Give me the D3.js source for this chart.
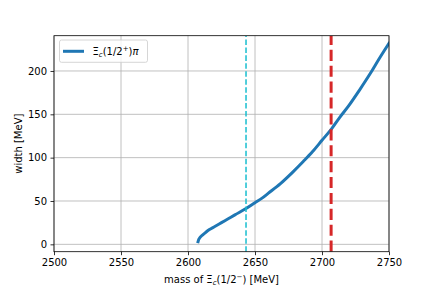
<!DOCTYPE html>
<html>
<head>
<meta charset="utf-8">
<script src="https://cdn.jsdelivr.net/npm/d3@7"></script>
<style>
  body { margin: 0; background: #fff; }
  svg { display: block; font-family: "DejaVu Sans", sans-serif; }
</style>
</head>
<body>
<svg id="chart" width="432" height="288"></svg>
<script>
// Data
const massValues = [2607.5, 2608, 2609, 2611, 2613, 2616, 2620, 2625, 2630, 2635, 2643, 2650, 2655, 2660, 2669, 2678, 2686, 2693, 2700, 2707, 2713, 2720, 2728, 2736, 2743, 2750];
const widthValues = [3, 5.5, 8, 11, 13.5, 17, 20.5, 25, 29.5, 34, 41, 48, 53, 59, 70, 83, 95.5, 107, 120, 133, 146, 160, 178, 197, 215, 232];
const cyanLineMass = [2643.3];
const redLineMass = [2706.8];
const xTicks = [2500, 2550, 2600, 2650, 2700, 2750];
const yTicks = [0, 50, 100, 150, 200];
const xDomain = [2500, 2750];
const yDomain = [-8.5, 240.7];

(function () {
const svg = d3.select("#chart");
const pl = 54, pr = 389, pt = 35.7, pb = 251.7;

const x = d3.scaleLinear().domain(xDomain).range([pl, pr]);
const y = d3.scaleLinear().domain(yDomain).range([pb, pt]);

// grid
const grid = svg.append("g");
grid.selectAll("line.gx").data(xTicks).join("line")
  .attr("x1", d => x(d)).attr("x2", d => x(d))
  .attr("y1", pt).attr("y2", pb)
  .attr("stroke", "#b0b0b0").attr("stroke-width", 0.8);
grid.selectAll("line.gy").data(yTicks).join("line")
  .attr("y1", d => y(d)).attr("y2", d => y(d))
  .attr("x1", pl).attr("x2", pr)
  .attr("stroke", "#b0b0b0").attr("stroke-width", 0.8);

// clip
svg.append("clipPath").attr("id", "clip").append("rect")
  .attr("x", pl).attr("y", pt).attr("width", pr - pl).attr("height", pb - pt);

const plot = svg.append("g").attr("clip-path", "url(#clip)");

// curve
const line = d3.line().x((d, i) => x(massValues[i])).y(d => y(d)).curve(d3.curveMonotoneX);
plot.append("path").datum(widthValues)
  .attr("d", line)
  .attr("fill", "none").attr("stroke", "#1f77b4").attr("stroke-width", 3)
  .attr("stroke-linecap", "square").attr("stroke-linejoin", "round");

// vertical dashed lines
plot.selectAll("line.cyan").data(cyanLineMass).join("line")
  .attr("x1", d => x(d)).attr("x2", d => x(d))
  .attr("y1", pb).attr("y2", pt)
  .attr("stroke", "#17becf").attr("stroke-width", 1.5)
  .attr("stroke-dasharray", "5.55,2.4");
plot.selectAll("line.red").data(redLineMass).join("line")
  .attr("x1", d => x(d)).attr("x2", d => x(d))
  .attr("y1", pb).attr("y2", pt)
  .attr("stroke", "#d62728").attr("stroke-width", 3)
  .attr("stroke-dasharray", "11.1,4.8");

// axes
const xAxis = d3.axisBottom(x).tickValues(xTicks).tickSize(3.5).tickPadding(3.5).tickFormat(d3.format("d"));
const yAxis = d3.axisLeft(y).tickValues(yTicks).tickSize(3.5).tickPadding(3.5).tickFormat(d3.format("d"));
const gx = svg.append("g").attr("transform", `translate(0,${pb})`).call(xAxis);
const gy = svg.append("g").attr("transform", `translate(${pl},0)`).call(yAxis);
[gx, gy].forEach(g => {
  g.select(".domain").remove();
  g.selectAll(".tick line").attr("stroke", "#000").attr("stroke-width", 0.8);
  g.selectAll(".tick text").attr("font-size", 10).attr("font-family", "DejaVu Sans").attr("fill", "#000");
});

// frame
svg.append("rect").attr("x", pl).attr("y", pt).attr("width", pr - pl).attr("height", pb - pt)
  .attr("fill", "none").attr("stroke", "#000").attr("stroke-width", 0.8);

// axis labels
const xl = svg.append("text").attr("x", (pl + pr) / 2).attr("y", 283)
  .attr("text-anchor", "middle").attr("font-size", 10);
xl.append("tspan").text("mass of Ξ");
xl.append("tspan").attr("font-style", "italic").attr("font-size", 7).attr("dy", 1.5).text("c");
xl.append("tspan").attr("dy", -1.5).text("(1/2");
xl.append("tspan").attr("font-size", 7).attr("dy", -4).text("−");
xl.append("tspan").attr("dy", 4).text(") [MeV]");

svg.append("text").attr("transform", `translate(22,${(pt + pb) / 2}) rotate(-90)`)
  .attr("text-anchor", "middle").attr("font-size", 10).text("width [MeV]");

// legend
const lg = svg.append("g");
lg.append("rect").attr("x", 59.5).attr("y", 40).attr("width", 88).attr("height", 22.3).attr("rx", 2)
  .attr("fill", "#fff").attr("fill-opacity", 0.8).attr("stroke", "#cccccc").attr("stroke-width", 0.8);
lg.append("line").attr("x1", 63).attr("x2", 84).attr("y1", 51.3).attr("y2", 51.3)
  .attr("stroke", "#1f77b4").attr("stroke-width", 3).attr("stroke-linecap", "butt");
const lt = lg.append("text").attr("x", 92.5).attr("y", 55).attr("font-size", 10);
lt.append("tspan").text("Ξ");
lt.append("tspan").attr("font-style", "italic").attr("font-size", 7).attr("dy", 1.5).text("c");
lt.append("tspan").attr("dy", -1.5).text("(1/2");
lt.append("tspan").attr("font-size", 7).attr("dy", -4).text("+");
lt.append("tspan").attr("dy", 4).text(")");
lt.append("tspan").attr("font-style", "italic").text("π");
})();
</script>
</body>
</html>
